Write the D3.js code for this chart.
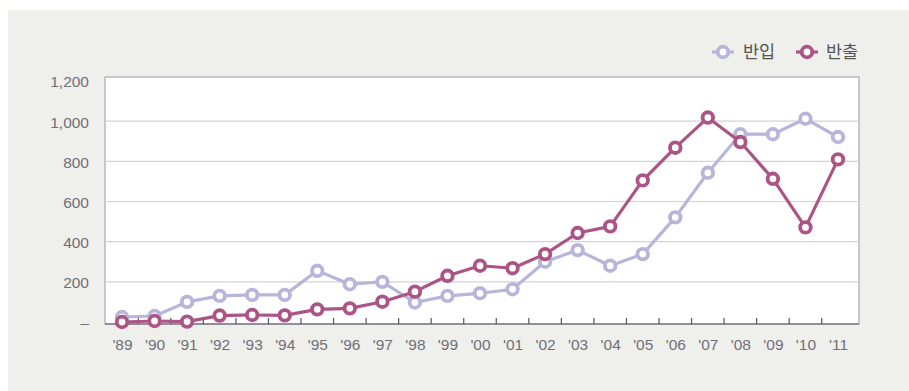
<!DOCTYPE html>
<html>
<head>
<meta charset="utf-8">
<script src="https://cdn.jsdelivr.net/npm/d3@7"></script>
<style>
  html, body { margin: 0; padding: 0; background: #ffffff; }
  svg { display: block; }
  text { font-family: "Liberation Sans Narrow", "Liberation Sans", "Noto Sans CJK KR", sans-serif; fill: #6f6f78; }
  .legend text { font-family: "Noto Sans CJK KR", sans-serif; fill: #555; }
</style>
</head>
<body>
<svg id="chart" width="909" height="391"></svg>
<script>
// Years (labels on the x axis)
const years = ["'89","'90","'91","'92","'93","'94","'95","'96","'97","'98","'99","'00",
               "'01","'02","'03","'04","'05","'06","'07","'08","'09","'10","'11"];
// 반입 (inbound)
const inbound = [25, 30, 100, 130, 135, 135, 255, 188, 200, 97, 130, 143,
                 163, 300, 358, 280, 338, 521, 743, 935, 935, 1012, 921];
// 반출 (outbound)
const outbound = [0, 5, 2, 32, 35, 33, 63, 68, 101, 151, 230, 280,
                  268, 338, 443, 476, 705, 868, 1018, 896, 713, 471, 810];
// y-axis ticks
const yTicks = [0, 200, 400, 600, 800, 1000, 1200];

const seriesList = [
  { name: "반입", values: inbound, color: "#b7b5da" },
  { name: "반출", values: outbound, color: "#ab5485" }
];

const svg = d3.select("#chart");
const W = 909, H = 391;

// page background panel
svg.append("rect").attr("x", 0).attr("y", 0).attr("width", W).attr("height", H).attr("fill", "#ffffff");
svg.append("rect").attr("x", 8).attr("y", 10).attr("width", W - 8).attr("height", H - 10).attr("fill", "#efefeb");

const frame = { left: 105, right: 859, top: 77, bottom: 324 };

const x = d3.scalePoint().domain(years).range([122, 838]);
const y = d3.scaleLinear().domain([0, 1200]).range([322, 81]);

const labelFont = '"Liberation Sans Narrow", "Liberation Sans", sans-serif';

// plot area
svg.append("rect")
  .attr("x", frame.left).attr("y", frame.top)
  .attr("width", frame.right - frame.left).attr("height", frame.bottom - frame.top)
  .attr("fill", "#ffffff").attr("stroke", "#a9a9b0").attr("stroke-width", 1.2);

// horizontal gridlines
svg.append("g").selectAll("line")
  .data(yTicks.filter(d => d > 0 && d < 1200))
  .join("line")
  .attr("x1", frame.left).attr("x2", frame.right)
  .attr("y1", d => y(d)).attr("y2", d => y(d))
  .attr("stroke", "#d2d2d8").attr("stroke-width", 1.2);

// y axis labels
const yAxis = d3.axisLeft(y).tickValues(yTicks)
  .tickFormat(d => d === 0 ? "–" : d3.format(",")(d))
  .tickSize(0).tickPadding(16);
const gy = svg.append("g").attr("transform", `translate(${frame.left},1)`).call(yAxis);
gy.select(".domain").remove();
gy.selectAll("text").attr("font-size", 15.5).attr("fill", "#767680")
  .style("font-family", labelFont);

// bottom axis line
svg.append("line")
  .attr("x1", frame.left).attr("x2", frame.right)
  .attr("y1", frame.bottom).attr("y2", frame.bottom)
  .attr("stroke", "#7d7d85").attr("stroke-width", 1.6);

// tick marks between categories
const step = x.step();
svg.append("g").selectAll("line")
  .data(years.slice(0, -1))
  .join("line")
  .attr("x1", d => x(d) + step / 2).attr("x2", d => x(d) + step / 2)
  .attr("y1", frame.bottom).attr("y2", frame.bottom - 6)
  .attr("stroke", "#55555c").attr("stroke-width", 1.2);

// x axis labels
const xAxis = d3.axisBottom(x).tickSize(0).tickPadding(12);
const gx = svg.append("g").attr("transform", `translate(0,${frame.bottom + 3})`).call(xAxis);
gx.select(".domain").remove();
gx.selectAll("text").attr("font-size", 15.5).attr("fill", "#767680")
  .style("font-family", labelFont);

// lines and markers
const line = d3.line().x((d, i) => x(years[i])).y(d => y(d));
seriesList.forEach(s => {
  const g = svg.append("g");
  g.append("path").datum(s.values)
    .attr("d", line).attr("fill", "none")
    .attr("stroke", s.color).attr("stroke-width", 3.2).attr("stroke-linejoin", "round");
  g.selectAll("circle").data(s.values).join("circle")
    .attr("cx", (d, i) => x(years[i])).attr("cy", d => y(d))
    .attr("r", 5.3).attr("fill", "#ffffff")
    .attr("stroke", s.color).attr("stroke-width", 3.8);
});

// legend
const legend = svg.append("g").attr("class", "legend");
const legendItems = [
  { s: seriesList[0], x: 712, tx: 743 },
  { s: seriesList[1], x: 796, tx: 826 }
];
legendItems.forEach(it => {
  const g = legend.append("g");
  g.append("line").attr("x1", it.x).attr("x2", it.x + 22)
    .attr("y1", 52).attr("y2", 52)
    .attr("stroke", it.s.color).attr("stroke-width", 3.2);
  g.append("circle").attr("cx", it.x + 11).attr("cy", 52).attr("r", 5.3)
    .attr("fill", "#ffffff").attr("stroke", it.s.color).attr("stroke-width", 3.8);
  g.append("text").attr("x", it.tx).attr("y", 52).attr("dy", "0.35em")
    .attr("font-size", 17.5).text(it.s.name);
});
</script>
</body>
</html>
